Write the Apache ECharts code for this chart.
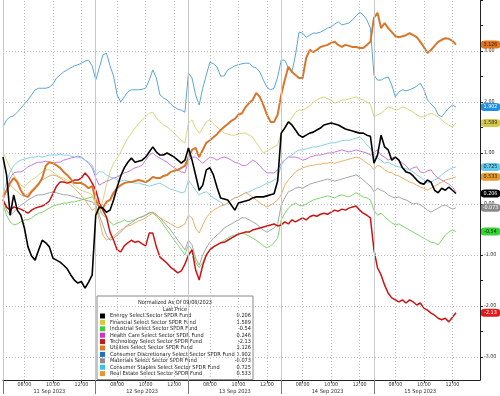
<!DOCTYPE html>
<html><head><meta charset="utf-8">
<script src="https://cdn.jsdelivr.net/npm/echarts@6/dist/echarts.min.js"></script>
<style>html,body{margin:0;padding:0;background:#fff}#c{width:500px;height:396px}</style>
</head><body><div id="c"></div>
<script>
// ---- data ----
const days = ['11 Sep 2023','12 Sep 2023','13 Sep 2023','14 Sep 2023','15 Sep 2023'];
const slotTimes = ['06:30','06:45','07:00','07:15','07:30','07:45','08:00','08:15','08:30','08:45','09:00','09:15','09:30','09:45','10:00','10:15','10:30','10:45','11:00','11:15','11:30','11:45','12:00','12:15','12:30','12:45'];
const timeTickLabels = ['08:00','10:00','12:00'];
const yTickLabels = [-3,-2,-1,0,1,2,3];
const seriesNames = ['Energy Select Sector SPDR Fund','Financial Select Sector SPDR Fund','Industrial Select Sector SPDR Fund','Health Care Select Sector SPDR Fund','Technology Select Sector SPDR Fund','Utilities Select Sector SPDR Fund','Consumer Discretionary Select Sector SPDR Fund','Materials Select Sector SPDR Fund','Consumer Staples Select Sector SPDR Fund','Real Estate Select Sector SPDR Fund'];
const lastPriceText = ['0.206','1.589','-0.54','0.246','-2.13','3.126','1.902','-0.073','0.725','0.533'];

const energy = [
 [0.92,0.57,-0.22,0.18,-0.12,-0.22,-0.47,-0.84,-1.02,-1.10,-0.90,-0.71,-0.76,-0.84,-1.06,-1.10,-1.14,-1.20,-1.27,-1.39,-1.49,-1.55,-1.52,-1.65,-1.53,-1.39],
 [-0.22,-0.06,-0.08,-0.16,-0.12,0.08,0.33,0.55,0.71,0.82,0.90,0.82,0.84,0.86,0.92,1.02,1.12,1.02,0.96,0.96,1.00,0.96,0.92,0.86,0.80,0.86],
 [1.10,0.86,0.57,0.27,0.37,0.67,0.71,0.57,0.33,0.12,0.10,0.08,-0.02,-0.12,0.02,0.04,0.06,0.08,0.12,0.14,0.14,0.14,0.16,0.18,0.20,0.45],
 [1.39,1.49,1.61,1.55,1.45,1.35,1.31,1.35,1.39,1.41,1.45,1.49,1.55,1.57,1.59,1.57,1.55,1.51,1.47,1.45,1.43,1.41,1.39,1.39,1.35,1.33],
 [0.80,0.96,1.35,1.12,1.06,0.86,0.92,0.86,0.71,0.63,0.61,0.55,0.47,0.41,0.39,0.47,0.43,0.27,0.22,0.31,0.27,0.33,0.27,0.206]
];
const financial = [
 [1.02,0.86,0.71,0.57,0.47,0.37,0.33,0.41,0.47,0.51,0.57,0.63,0.67,0.67,0.63,0.57,0.53,0.51,0.47,0.43,0.37,0.31,0.27,0.24,0.22,0.18],
 [-0.02,-0.22,0.08,0.37,0.63,0.80,0.90,1.02,1.16,1.29,1.39,1.49,1.57,1.65,1.71,1.78,1.80,1.69,1.61,1.55,1.51,1.45,1.39,1.31,1.25,1.20],
 [1.59,1.65,1.49,1.39,1.49,1.61,1.65,1.57,1.51,1.45,1.39,1.37,1.35,1.35,1.37,1.39,1.39,1.35,1.31,1.20,1.10,1.00,1.04,1.08,1.12,1.16],
 [1.39,1.49,1.59,1.69,1.80,1.84,1.84,1.88,1.92,2.00,2.04,2.08,2.10,2.06,2.04,1.98,2.00,2.04,2.04,2.06,2.08,2.10,2.06,2.04,2.00,1.96],
 [1.71,1.75,1.78,1.84,1.90,1.88,1.84,1.86,1.90,1.88,1.84,1.80,1.75,1.71,1.71,1.75,1.78,1.75,1.71,1.65,1.59,1.55,1.51,1.589]
];
const industrial = [
 [0.00,-0.22,-0.35,-0.41,-0.39,-0.35,-0.31,-0.31,-0.27,-0.22,-0.18,-0.16,-0.12,-0.08,-0.04,-0.02,0.00,0.02,0.02,0.04,0.04,0.06,0.08,0.10,0.12,0.14],
 [0.08,-0.08,-0.22,-0.27,-0.35,-0.41,-0.37,-0.35,-0.31,-0.35,-0.33,-0.31,-0.27,-0.25,-0.22,-0.16,-0.18,-0.24,-0.31,-0.41,-0.51,-0.61,-0.71,-0.80,-0.90,-1.00],
 [-0.80,-0.90,-1.14,-1.25,-1.14,-1.00,-0.90,-0.84,-0.80,-0.76,-0.71,-0.67,-0.63,-0.61,-0.59,-0.57,-0.59,-0.63,-0.67,-0.71,-0.76,-0.82,-0.86,-0.82,-0.76,-0.67],
 [-0.31,-0.18,-0.08,-0.02,0.02,-0.02,-0.04,0.00,0.04,0.08,0.10,0.12,0.14,0.16,0.14,0.12,0.16,0.18,0.16,0.14,0.18,0.22,0.18,0.14,0.12,0.08],
 [-0.12,-0.22,-0.18,-0.25,-0.31,-0.37,-0.41,-0.39,-0.43,-0.47,-0.51,-0.55,-0.59,-0.63,-0.67,-0.71,-0.75,-0.76,-0.80,-0.71,-0.61,-0.55,-0.51,-0.54]
];
const healthCare = [
 [0.08,0.27,0.51,0.61,0.63,0.63,0.67,0.73,0.76,0.80,0.82,0.82,0.84,0.82,0.80,0.82,0.82,0.86,0.88,0.90,0.92,0.94,0.92,0.86,0.80,0.71],
 [0.51,0.37,0.41,0.45,0.47,0.51,0.53,0.57,0.61,0.63,0.67,0.71,0.73,0.76,0.86,0.96,1.00,0.94,0.90,0.86,0.82,0.76,0.71,0.67,0.63,0.61],
 [0.86,0.92,0.92,0.86,0.80,0.86,0.92,0.90,0.86,0.90,0.92,0.90,0.86,0.82,0.80,0.76,0.75,0.80,0.86,0.82,0.75,0.67,0.61,0.61,0.61,0.67],
 [0.80,0.86,0.92,0.92,0.92,0.90,0.86,0.88,0.92,0.94,0.96,0.96,0.98,1.00,1.00,1.02,1.04,1.06,1.04,1.02,1.04,1.06,1.04,1.02,1.00,0.96],
 [1.02,1.06,0.96,0.92,0.86,0.90,0.92,0.86,0.80,0.75,0.67,0.71,0.73,0.63,0.61,0.65,0.67,0.57,0.51,0.47,0.43,0.39,0.33,0.246]
];
const technology = [
 [0.08,-0.06,-0.12,-0.06,-0.08,-0.10,-0.14,-0.18,-0.12,-0.08,-0.06,-0.04,0.00,0.06,0.20,0.35,0.43,0.43,0.41,0.43,0.47,0.47,0.51,0.61,0.53,0.41],
 [0.27,0.02,-0.12,-0.25,-0.55,-0.71,-0.90,-0.94,-0.82,-0.76,-0.71,-0.75,-0.73,-0.78,-0.82,-0.57,-0.57,-0.84,-1.04,-1.10,-1.16,-1.24,-1.29,-1.35,-1.31,-1.18],
 [-1.00,-0.90,-1.29,-1.49,-1.20,-1.00,-0.90,-0.84,-0.80,-0.76,-0.75,-0.71,-0.67,-0.63,-0.59,-0.57,-0.55,-0.55,-0.51,-0.49,-0.47,-0.45,-0.43,-0.41,-0.39,-0.43],
 [-0.41,-0.35,-0.39,-0.31,-0.35,-0.31,-0.27,-0.31,-0.25,-0.22,-0.24,-0.20,-0.18,-0.20,-0.16,-0.12,-0.14,-0.10,-0.12,-0.08,-0.06,-0.04,-0.12,-0.18,-0.22,-0.27],
 [-0.90,-1.25,-1.39,-1.59,-1.75,-1.84,-1.88,-1.92,-1.88,-1.94,-1.88,-1.92,-1.98,-1.94,-2.04,-2.08,-2.14,-2.18,-2.24,-2.27,-2.24,-2.31,-2.22,-2.13]
];
const utilities = [
 [0.14,0.27,0.41,0.51,0.43,0.27,0.16,0.14,0.24,0.31,0.39,0.51,0.75,0.82,0.80,0.76,0.71,0.63,0.57,0.49,0.41,0.41,0.41,0.37,0.31,0.35],
 [0.08,-0.06,-0.08,0.04,0.08,0.22,0.31,0.37,0.41,0.43,0.43,0.45,0.47,0.45,0.43,0.47,0.53,0.51,0.51,0.55,0.57,0.63,0.65,0.67,0.71,0.75],
 [0.92,1.06,1.10,0.92,1.06,1.20,1.25,1.31,1.37,1.45,1.51,1.57,1.63,1.67,1.75,1.78,1.90,1.98,2.04,2.18,2.10,1.94,1.75,1.61,1.61,1.75],
 [2.14,2.43,2.69,2.59,2.53,2.47,2.47,2.86,3.02,2.98,3.02,3.08,3.10,3.12,3.16,3.18,3.12,3.08,3.12,3.10,3.08,3.08,3.06,3.06,3.12,3.18],
 [3.65,3.75,3.45,3.55,3.45,3.37,3.29,3.27,3.29,3.31,3.35,3.31,3.27,3.18,3.08,2.96,3.02,3.10,3.18,3.22,3.25,3.24,3.20,3.126]
];
const consDisc = [
 [1.51,1.65,1.71,1.73,1.80,1.88,1.96,2.04,2.14,2.24,2.27,2.27,2.27,2.29,2.35,2.47,2.53,2.59,2.63,2.67,2.71,2.73,2.76,2.80,2.82,2.71],
 [2.43,2.67,2.92,2.96,2.71,2.51,2.14,2.00,2.10,2.20,2.24,2.24,2.24,2.25,2.27,2.43,2.63,2.47,2.14,2.08,2.04,1.96,1.90,1.86,1.84,1.80],
 [2.57,2.47,2.14,1.94,2.27,2.53,2.78,2.75,2.69,2.51,2.51,2.63,2.67,2.71,2.73,2.75,2.76,2.76,2.69,2.67,2.59,2.43,2.29,2.24,2.27,2.49],
 [2.82,2.82,2.67,2.59,2.92,3.37,3.35,3.27,3.31,3.35,3.35,3.37,3.41,3.45,3.47,3.53,3.57,3.51,3.53,3.55,3.61,3.69,3.76,3.71,3.61,3.45],
 [2.53,2.43,2.43,2.47,2.49,2.33,2.10,2.20,2.24,2.22,2.24,2.27,2.31,2.37,2.24,2.04,1.96,1.90,1.75,1.71,1.80,1.88,1.94,1.902]
];
const materials = [
 [0.08,-0.12,-0.22,-0.16,-0.08,-0.02,0.02,0.08,0.12,0.16,0.18,0.18,0.20,0.22,0.24,0.22,0.20,0.18,0.18,0.16,0.14,0.12,0.10,0.08,0.06,0.04],
 [-0.02,-0.22,-0.41,-0.61,-0.71,-0.67,-0.61,-0.55,-0.47,-0.41,-0.37,-0.31,-0.27,-0.25,-0.22,-0.18,-0.16,-0.20,-0.27,-0.35,-0.43,-0.51,-0.61,-0.71,-0.80,-0.90],
 [-0.71,-0.80,-1.06,-1.20,-1.00,-0.86,-0.75,-0.67,-0.61,-0.55,-0.47,-0.43,-0.39,-0.35,-0.31,-0.27,-0.27,-0.31,-0.35,-0.39,-0.45,-0.51,-0.55,-0.51,-0.47,-0.39],
 [-0.02,0.12,0.24,0.27,0.31,0.33,0.31,0.35,0.39,0.41,0.43,0.45,0.47,0.49,0.47,0.45,0.47,0.49,0.51,0.53,0.55,0.57,0.53,0.47,0.41,0.35],
 [0.24,0.31,0.27,0.24,0.18,0.14,0.12,0.14,0.10,0.08,0.04,0.00,0.02,-0.02,-0.06,-0.12,-0.16,-0.12,-0.08,-0.04,-0.02,-0.06,-0.10,-0.073]
];
const consStaples = [
 [0.18,0.43,0.63,0.75,0.82,0.86,0.88,0.90,0.92,0.92,0.94,0.92,0.94,0.96,0.96,0.96,0.98,0.96,0.96,0.94,0.92,0.92,0.90,0.86,0.82,0.76],
 [0.57,0.63,0.63,0.57,0.53,0.51,0.47,0.45,0.47,0.45,0.43,0.41,0.41,0.39,0.37,0.35,0.37,0.39,0.41,0.37,0.33,0.29,0.27,0.25,0.22,0.24],
 [0.47,0.37,0.27,0.18,0.22,0.24,0.18,0.12,0.08,0.04,-0.02,0.02,0.08,0.12,0.14,0.18,0.22,0.24,0.27,0.31,0.33,0.37,0.41,0.43,0.47,0.51],
 [0.76,0.86,0.92,0.96,1.02,1.06,1.06,1.08,1.10,1.12,1.12,1.14,1.16,1.18,1.20,1.20,1.22,1.24,1.25,1.25,1.27,1.29,1.31,1.25,1.16,1.10],
 [0.96,0.90,0.86,0.80,0.82,0.78,0.75,0.73,0.71,0.69,0.67,0.63,0.57,0.53,0.47,0.41,0.43,0.47,0.51,0.57,0.63,0.67,0.71,0.725]
];
const realEstate = [
 [0.08,0.27,0.37,0.31,0.24,0.18,0.16,0.20,0.27,0.35,0.41,0.47,0.51,0.55,0.57,0.55,0.51,0.47,0.43,0.37,0.31,0.24,0.16,0.08,-0.02,-0.12],
 [-0.08,-0.31,-0.61,-0.71,-0.67,-0.63,-0.57,-0.51,-0.47,-0.43,-0.41,-0.37,-0.33,-0.31,-0.27,-0.22,-0.18,-0.22,-0.27,-0.31,-0.35,-0.39,-0.43,-0.47,-0.43,-0.39],
 [-0.22,-0.27,-0.47,-0.57,-0.41,-0.27,-0.18,-0.12,-0.08,-0.04,-0.02,0.02,0.08,0.12,0.14,0.18,0.22,0.18,0.14,0.08,0.02,-0.02,-0.06,-0.02,0.02,0.08],
 [0.18,0.37,0.47,0.55,0.63,0.67,0.71,0.73,0.75,0.76,0.78,0.78,0.80,0.80,0.82,0.80,0.82,0.84,0.86,0.88,0.90,0.92,0.90,0.86,0.80,0.76],
 [0.67,0.76,0.73,0.67,0.63,0.61,0.57,0.55,0.51,0.47,0.43,0.41,0.37,0.33,0.31,0.27,0.31,0.35,0.39,0.43,0.47,0.49,0.51,0.533]
];
const allSeries = [energy, financial, industrial, healthCare, technology, utilities, consDisc, materials, consStaples, realEstate];

// ---- styles ----
const FONT = "'DejaVu Sans Condensed','Liberation Sans Narrow',sans-serif";
const AX_FS = 5.3, LG_FS = 5.6;
const lineColors = ['#000000','#d8d67e','#7fd66a','#c87ad8','#cc1414','#d8772a','#5aa6d6','#a6a6a6','#86d0e6','#eab068'];
const lineWidths = [1.6,1,1,1,1.5,2,1,1,1,1];
const zs = [5,2,2,2,4,4,3,2,2,2];
const legendColors = ['#000000','#d8c93a','#3ccf3c','#cc33cc','#c81818','#dd7a22','#1f6fc8','#8c8c8c','#3cbfe8','#e49a2a'];
const tagBg = ['#000000','#d8c84a','#33d433',null,'#e01b1b','#e0741f','#1f8fe6','#8a8a8a','#62c9ee','#e89a2a'];
const tagFg = ['#ffffff','#222','#111',null,'#ffffff','#222','#ffffff','#ffffff','#222','#222'];

const DAY_MIN = 390, OPEN_MIN = 390; // session length, 06:30 in minutes
const XMAX = 2006;
function toMin(s){const p=s.split(':');return (+p[0])*60+(+p[1]);}
function fmtClock(m){const h=Math.floor(m/60),mm=m%60;return (h<10?'0':'')+h+':'+(mm<10?'0':'')+mm;}

function build(arr){
  const out=[];
  arr.forEach((dayVals,d)=>dayVals.forEach((v,i)=>out.push([d*DAY_MIN+toMin(slotTimes[i])-OPEN_MIN, v])));
  return out;
}
const hourTicks=[], dayStarts=[], dayCenters=[];
days.forEach((d,i)=>{
  timeTickLabels.forEach(t=>hourTicks.push(i*DAY_MIN+toMin(t)-OPEN_MIN));
  dayStarts.push(i*DAY_MIN);
  dayCenters.push(i*DAY_MIN+DAY_MIN/2);
});
const yMinorTicks=[];
for(let v=-3;v<=4.001;v+=0.5) yMinorTicks.push(+v.toFixed(1));

const series = seriesNames.map((name,k)=>{
  const data = build(allSeries[k]);
  const last = data[data.length-1];
  const s = {
    name, type:'line', data, showSymbol:false, symbol:'none', z:zs[k],
    lineStyle:{color:lineColors[k], width:lineWidths[k]}, itemStyle:{color:lineColors[k]},
    animation:false, silent:true
  };
  if(tagBg[k]){
    s.markPoint = {
      silent:true, animation:false,
      symbol:'roundRect', symbolSize:[19,8], symbolOffset:[10.5,0],
      itemStyle:{color:tagBg[k]},
      label:{show:true, position:'inside', formatter:()=>lastPriceText[k], color:tagFg[k], fontSize:5.4, fontFamily:FONT},
      data:[{coord:[XMAX,last[1]]}]
    };
  }
  return s;
});
series.unshift({
  name:'_grid', type:'line', data:[], z:1, silent:true, animation:false,
  markLine:{
    silent:true, animation:false, symbol:['none','none'], label:{show:false},
    data:[
      ...yTickLabels.map(v=>({yAxis:v, lineStyle:{type:[1,2], color:'#bdbdbd', width:1}})),
      ...hourTicks.map(v=>({xAxis:v, lineStyle:{type:[1,2], color:'#bdbdbd', width:1}})),
      ...dayStarts.map(v=>({xAxis:v, lineStyle:{type:'solid', color:'#c9c9c9', width:1}}))
    ]
  }
});

const chart = echarts.init(document.getElementById('c'), null, {renderer:'canvas'});
chart.setOption({
  animation:false,
  backgroundColor:'#ffffff',
  grid:{left:3, right:20, top:0, bottom:16, containLabel:false},
  xAxis:[{
    type:'value', min:0, max:XMAX, position:'bottom',
    axisLine:{show:true, onZero:false, lineStyle:{color:'#222', width:1}},
    axisTick:{show:true, customValues:hourTicks, length:3, lineStyle:{color:'#444'}},
    axisLabel:{show:true, customValues:hourTicks, formatter:v=>fmtClock(((v%DAY_MIN)+DAY_MIN)%DAY_MIN+OPEN_MIN), fontSize:AX_FS, color:'#333', fontFamily:FONT, margin:2},
    splitLine:{show:false}
  },{
    type:'value', min:0, max:XMAX, position:'bottom', offset:0,
    axisLine:{show:false, onZero:false},
    axisTick:{show:true, customValues:dayStarts, length:14, lineStyle:{color:'#777'}},
    axisLabel:{show:true, customValues:dayCenters, formatter:v=>days[Math.round((v-DAY_MIN/2)/DAY_MIN)], fontSize:AX_FS+0.3, color:'#333', fontFamily:FONT, margin:8.5},
    splitLine:{show:false}
  }],
  yAxis:{
    type:'value', min:-3.45, max:4, position:'right',
    axisLine:{show:true, onZero:false, lineStyle:{color:'#222', width:1}},
    axisTick:{show:true, customValues:yMinorTicks, length:3, lineStyle:{color:'#222'}},
    axisLabel:{show:true, customValues:yTickLabels, formatter:v=>v.toFixed(2), fontSize:AX_FS, color:'#333', fontFamily:FONT, margin:4},
    splitLine:{show:false}
  },
  legend:{
    show:true, selectedMode:false, orient:'vertical', left:97, top:296, height:200,
    padding:[17,2,3,3], itemGap:0.4, itemWidth:5, itemHeight:5, icon:'rect',
    backgroundColor:'#ffffff', borderColor:'#8a8a8a', borderWidth:1,
    data: seriesNames.map((n,k)=>({name:n, itemStyle:{color:legendColors[k]}})),
    formatter: n => '{n|'+n+'}{v|'+lastPriceText[seriesNames.indexOf(n)]+'}',
    textStyle:{fontSize:LG_FS, color:'#222', fontFamily:FONT, lineHeight:5, height:5,
      rich:{n:{width:124, height:5, fontSize:LG_FS, lineHeight:5, fontFamily:FONT, color:'#222'}, v:{width:17, height:5, align:'right', fontSize:LG_FS, lineHeight:5, fontFamily:FONT, color:'#222'}}}
  },
  graphic:[
    {type:'text', x:175, y:303, z:100, silent:true, style:{text:'Normalized As Of 09/08/2023', textAlign:'center', textVerticalAlign:'middle', fontSize:LG_FS, fontFamily:FONT, fill:'#222'}},
    {type:'text', x:175, y:309.5, z:100, silent:true, style:{text:'Last Price', textAlign:'center', textVerticalAlign:'middle', fontSize:LG_FS, fontFamily:FONT, fill:'#222'}}
  ],
  series
});
</script></body></html>
